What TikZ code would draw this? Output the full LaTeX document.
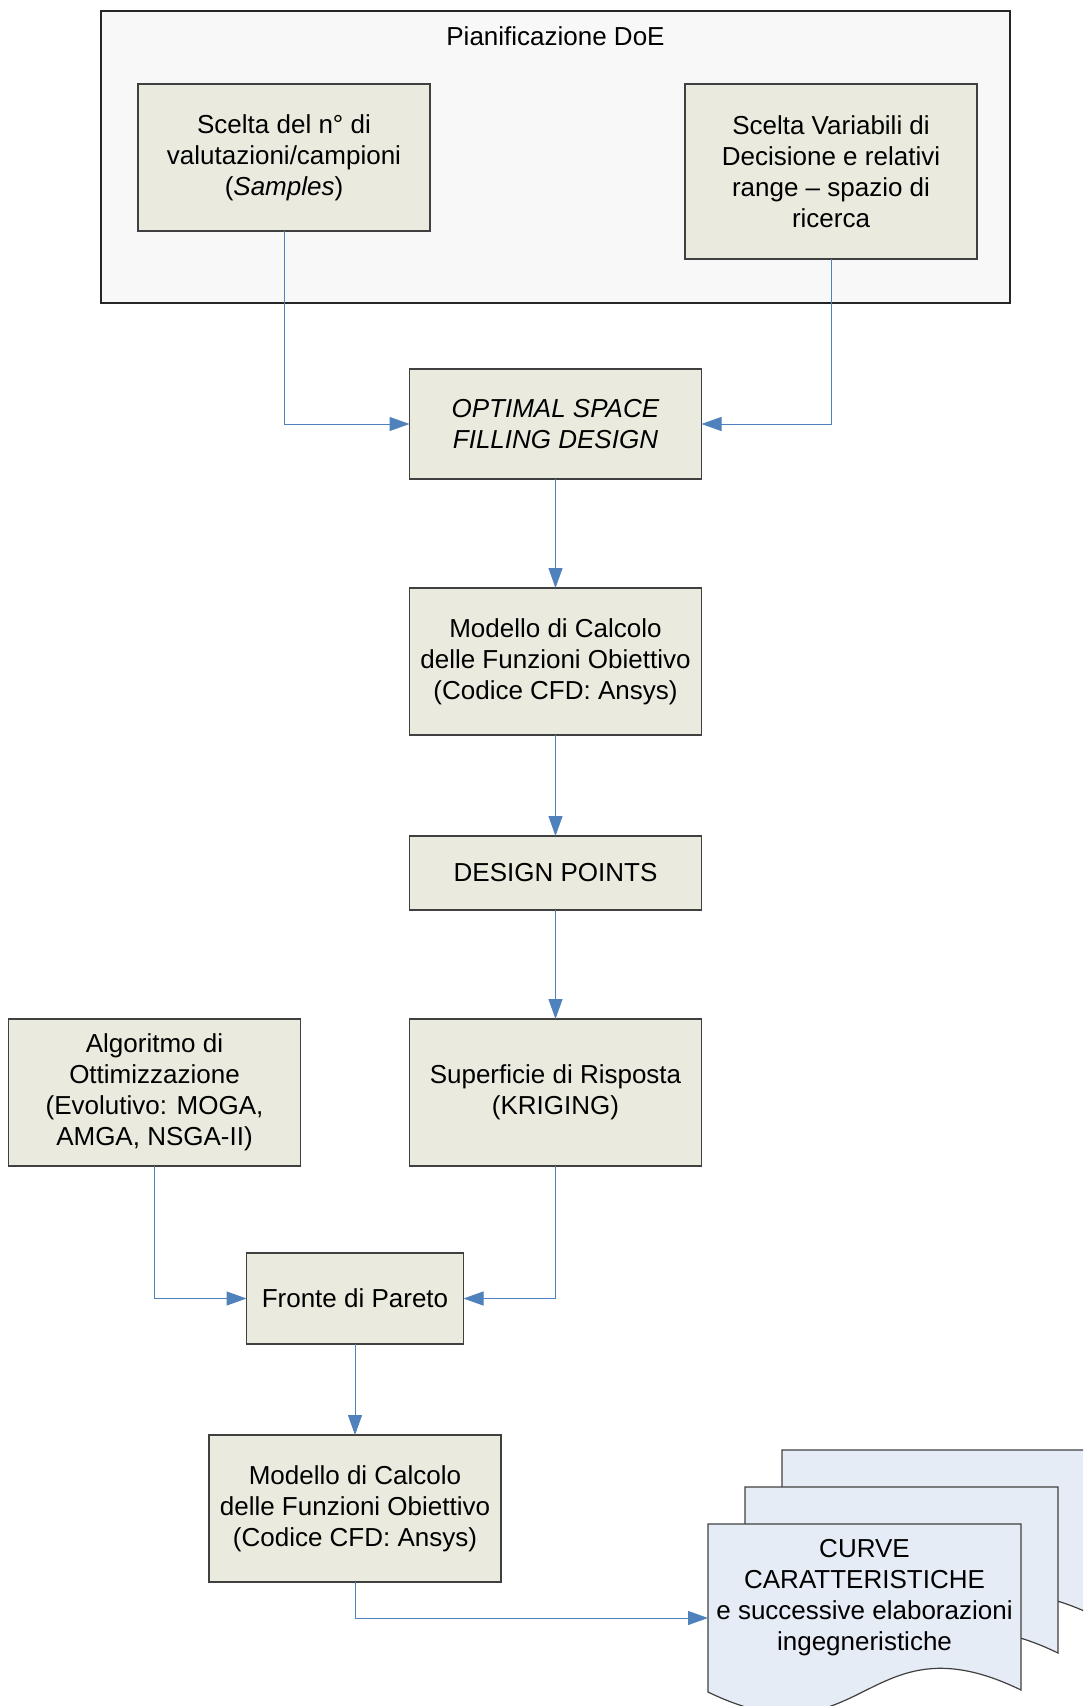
\documentclass[tikz,border=0pt]{standalone}
\usepackage{fontspec}
\setmainfont{Liberation Sans}
\usepackage{xcolor}
\usepackage{tikz}
\usetikzlibrary{arrows.meta, positioning, calc}
\definecolor{boxfill}{RGB}{234,235,222}
\definecolor{boxline}{RGB}{64,64,64}
\definecolor{groupfill}{RGB}{248,248,248}
\definecolor{docfill}{RGB}{230,236,246}
\definecolor{flowblue}{RGB}{79,129,189}
\newcommand{\boxfont}{\fontsize{13pt}{15.5pt}\selectfont}
\tikzset{
  group/.style={rectangle, draw=black!85, fill=groupfill, line width=0.6pt, outer sep=0pt, minimum width=454.5pt, minimum height=146pt},
  title/.style={font=\boxfont, inner sep=0pt},
  block/.style={rectangle, draw=boxline, fill=boxfill, line width=0.6pt, outer sep=0pt, minimum width=146pt, minimum height=73.5pt, align=center, font=\boxfont, inner sep=2pt},
  doc/.style={draw=boxline, fill=docfill, line width=0.6pt},
  arrow/.style={-{Triangle[length=10pt, width=7pt]}, draw=flowblue, line width=0.5pt},
}

\begin{document}
\begin{tikzpicture}[x=0.5pt, y=-0.5pt]
\useasboundingbox (0,0) rectangle (1083,1706);
\node[group] (doe) at (555.5,157) {};
\node[title] (doetitle) at ($(doe.north)+(0,25)$) {Pianificazione DoE};
\node[block, below right=36.5pt and 18.5pt of doe.north west] (samples) {Scelta del n° di\\valutazioni/campioni\\(\textit{Samples})};
\node[block, minimum height=87.5pt, below left=36.5pt and 16.5pt of doe.north east] (vars) {Scelta Variabili di\\Decisione e relativi\\range – spazio di\\ricerca};
\node[block, minimum height=55pt, below=33pt of doe] (osfd) {\textit{OPTIMAL SPACE}\\\textit{FILLING DESIGN}};
\node[block, below=54.5pt of osfd] (model1) {Modello di Calcolo\\delle Funzioni Obiettivo\\(Codice CFD: Ansys)};
\node[block, minimum height=37pt, below=50.5pt of model1] (dp) {DESIGN POINTS};
\node[block, below=54.5pt of dp] (surf) {Superficie di Risposta\\(KRIGING)};
\node[block, left=54.5pt of surf] (algo) {Algoritmo di\\Ottimizzazione\\(Evolutivo: MOGA,\\AMGA, NSGA-II)};
\coordinate (mid) at ($(algo.south)!0.5!(surf.south)$);
\node[block, minimum width=108.5pt, minimum height=45.5pt, below=43.5pt of mid] (pareto) {Fronte di Pareto};
\node[block, below=45.5pt of pareto] (model2) {Modello di Calcolo\\delle Funzioni Obiettivo\\(Codice CFD: Ansys)};
\begin{scope}
\clip (0,0) rectangle (1083,1706);
\foreach \dx in {74,37,0}
  \draw[doc, shift={(\dx,-\dx)}] (708,1524) -- (1021,1524) -- (1021,1690)
    .. controls (864.5,1614) and (864.5,1768) .. (708,1692) -- cycle;
\end{scope}
\node[font=\boxfont, align=center] (curves) at (864.5,1598) {CURVE\\CARATTERISTICHE\\e successive elaborazioni\\ingegneristiche};
\coordinate (docin) at (708,1618);
\draw[arrow] (samples.south) |- (osfd.west);
\draw[arrow] (vars.south) |- (osfd.east);
\draw[arrow] (osfd) -- (model1);
\draw[arrow] (model1) -- (dp);
\draw[arrow] (dp) -- (surf);
\draw[arrow] (algo.south) |- (pareto.west);
\draw[arrow] (surf.south) |- (pareto.east);
\draw[arrow] (pareto) -- (model2);
\draw[arrow] (model2.south) |- (docin);
\end{tikzpicture}
\end{document}
